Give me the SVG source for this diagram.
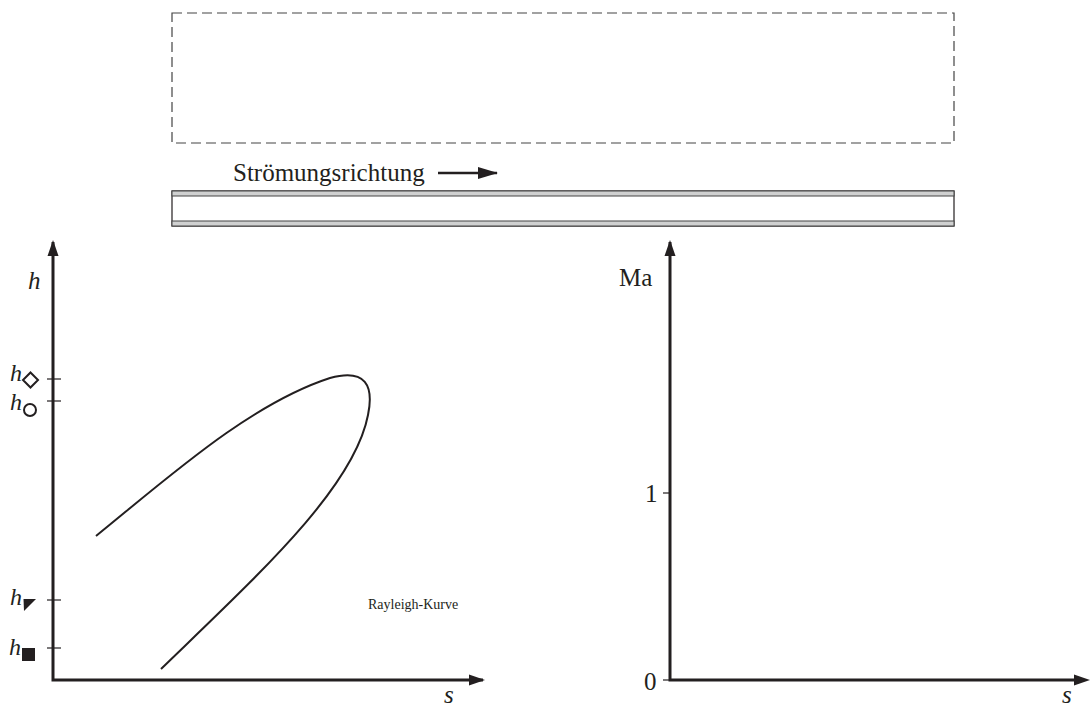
<svg xmlns="http://www.w3.org/2000/svg" width="1090" height="704" viewBox="0 0 1090 704">
<style>
.ax{stroke:#231f20;stroke-width:3;fill:none}
.tk{stroke:#231f20;stroke-width:1.2}
.t{font-family:"Liberation Serif",serif;fill:#231f20}
.it{font-style:italic}
</style>
<defs>
<marker id="ah" markerWidth="20" markerHeight="12" refX="19" refY="6" orient="auto" markerUnits="userSpaceOnUse">
<path d="M0,0 L20,6 L0,12 Z" fill="#231f20"/>
</marker>
</defs>
<g id="dashed-box">
<rect x="172" y="13" width="782" height="130" fill="none" stroke="#444" stroke-width="1.2" stroke-dasharray="10,5"/>
</g>
<g id="pipe">
<rect x="172" y="191" width="782" height="35" fill="#fff" stroke="#231f20" stroke-width="1.2"/>
<rect x="172" y="191" width="782" height="5" fill="#cfd0d0" stroke="#444" stroke-width="1"/>
<rect x="172" y="221" width="782" height="5" fill="#cfd0d0" stroke="#444" stroke-width="1"/>
</g>
<g id="flow-label">
<text class="t" x="233" y="181" font-size="25">Strömungsrichtung</text>
</g>
<g id="connectors">
<line x1="438" y1="173" x2="497" y2="173" stroke="#231f20" stroke-width="2.5" marker-end="url(#ah)"/>
<polyline class="ax" points="53,242 53,680 483,680"/>
<path d="M53,240 L47.5,256 L58.5,256 Z" fill="#231f20"/>
<path d="M485,680 L469,674.5 L469,685.5 Z" fill="#231f20"/>
<polyline class="ax" points="670,242 670,680 1075,680"/>
<path d="M670,240 L664.5,256 L675.5,256 Z" fill="#231f20"/>
<path d="M1090,680 L1074,674.5 L1074,685.5 Z" fill="#231f20"/>
</g>
<g id="h-axis">
<line class="tk" x1="47" y1="379" x2="61" y2="379"/>
<line class="tk" x1="47" y1="401" x2="61" y2="401"/>
<line class="tk" x1="47" y1="600" x2="61" y2="600"/>
<line class="tk" x1="47" y1="648" x2="61" y2="648"/>
<text class="t it" x="28" y="289" font-size="25">h</text>
<text class="t it" x="10" y="381" font-size="24">h</text>
<path d="M30.5,372.5 L38,380 L30.5,387.5 L23,380 Z" fill="none" stroke="#231f20" stroke-width="2"/>
<text class="t it" x="10" y="410" font-size="24">h</text>
<circle cx="30" cy="410" r="6" fill="none" stroke="#231f20" stroke-width="2"/>
<text class="t it" x="10" y="605" font-size="24">h</text>
<path d="M23.5,599 L36,599 L24,611 Z" fill="#231f20"/>
<text class="t it" x="9" y="655" font-size="24">h</text>
<rect x="22" y="648" width="13" height="13" fill="#231f20"/>
<text class="t it" x="444" y="703" font-size="25">s</text>
</g>
<g id="rayleigh-curve">
<path d="M96,536 C170,476 250,404 330,378 C366,368 374,386 368,415 C354,488 258,575 161,669" fill="none" stroke="#231f20" stroke-width="2"/>
<text class="t" x="368" y="609" font-size="14">Rayleigh-Kurve</text>
</g>
<g id="ma-axis">
<line class="tk" x1="663" y1="493" x2="670" y2="493"/>
<line class="tk" x1="663" y1="680" x2="670" y2="680"/>
<text class="t" x="619" y="286" font-size="25">Ma</text>
<text class="t" x="645" y="502" font-size="25">1</text>
<text class="t" x="644" y="690" font-size="25">0</text>
<text class="t it" x="1062" y="703" font-size="25">s</text>
</g>
</svg>
